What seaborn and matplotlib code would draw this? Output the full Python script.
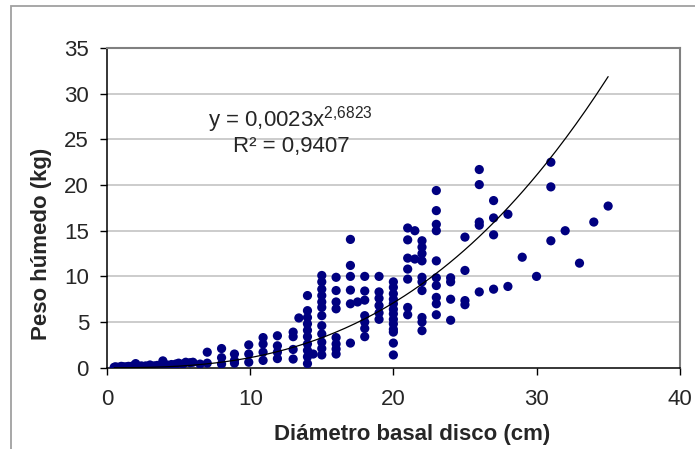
import matplotlib
matplotlib.use("Agg")
import matplotlib.pyplot as plt
import seaborn as sns
import numpy as np
import pandas as pd
from matplotlib.patches import Rectangle

# diametro basal (cm) / peso humedo (kg)
diam_small = [0.5, 0.6, 0.8, 1.0, 1.0, 1.2, 1.4, 1.5, 1.7, 1.8, 2.0, 2.0, 2.2, 2.4, 2.5, 2.7,
              3.0, 3.0, 3.3, 3.5, 3.8, 3.9, 4.2, 4.5, 4.8, 5.0, 5.3, 5.5, 5.8, 6.0, 6.5,
              7.0, 7.0, 8.0, 8.0, 8.0, 8.9, 8.9, 8.9, 9.9, 9.9, 9.9,
              10.9, 10.9, 10.9, 10.9, 11.9, 11.9, 11.9, 11.9]
peso_small = [0.05, 0.1, 0.05, 0.1, 0.15, 0.1, 0.1, 0.15, 0.1, 0.2, 0.45, 0.1, 0.15, 0.2, 0.1, 0.2,
              0.15, 0.3, 0.2, 0.25, 0.3, 0.75, 0.3, 0.35, 0.4, 0.5, 0.4, 0.6, 0.55, 0.6, 0.4,
              1.7, 0.5, 2.1, 1.1, 0.4, 1.5, 0.8, 0.5, 2.5, 1.5, 0.6,
              3.3, 2.6, 1.7, 0.8, 3.5, 2.4, 1.7, 1.0]

diam_mid = [13.0, 13.0, 13.0, 13.0, 13.4,
            14.0, 14.0, 14.0, 14.0, 14.0, 14.0, 14.0, 14.0, 14.0, 14.0, 14.4,
            15.0, 15.0, 15.0, 15.0, 15.0, 15.0, 15.0, 15.0, 15.0, 15.0, 15.0, 15.0,
            16.0, 16.0, 16.0, 16.0, 16.0, 16.0, 16.0, 16.0,
            17.0, 17.0, 17.0, 17.0, 17.0, 17.0, 17.5,
            18.0, 18.0, 18.0, 18.0, 18.0, 18.0, 18.0,
            19.0, 19.0, 19.0, 19.0, 19.0, 19.0,
            20.0, 20.0, 20.0, 20.0, 20.0, 20.0, 20.0, 20.0, 20.0, 20.0, 20.0, 20.0, 20.0]
peso_mid = [3.9, 3.4, 2.0, 0.95, 5.45,
            7.9, 6.25, 5.5, 4.8, 4.1, 3.4, 2.6, 1.9, 1.2, 0.45, 1.5,
            10.1, 9.4, 8.6, 7.9, 7.2, 6.6, 5.7, 4.6, 3.7, 2.8, 2.1, 1.4,
            9.9, 8.45, 7.2, 6.45, 3.3, 2.6, 2.05, 1.5,
            14.05, 11.2, 10.0, 8.5, 7.0, 2.7, 7.2,
            10.0, 8.4, 7.4, 5.7, 5.0, 4.3, 3.4,
            10.0, 8.3, 7.6, 6.8, 6.0, 5.3,
            9.4, 8.8, 8.1, 7.5, 7.0, 6.4, 5.9, 5.3, 4.8, 4.2, 3.9, 2.7, 1.4]

diam_large = [21.0, 21.0, 21.0, 21.0, 21.0, 21.0, 21.0, 21.5, 21.5,
              22.0, 22.0, 22.0, 22.0, 22.0, 22.0, 22.0, 22.0, 22.0, 22.0,
              23.0, 23.0, 23.0, 23.0, 23.0, 23.0, 23.0, 23.0, 23.0, 23.0,
              24.0, 24.0, 24.0, 24.0, 25.0, 25.0, 25.0, 25.0,
              26.0, 26.0, 26.0, 26.0, 26.0, 27.0, 27.0, 27.0, 27.0,
              28.0, 28.0, 29.0, 30.0, 31.0, 31.0, 31.0, 32.0, 33.0, 34.0, 35.0]
peso_large = [15.3, 14.0, 12.0, 10.8, 9.7, 6.6, 5.8, 15.0, 11.9,
              13.9, 13.2, 12.5, 11.7, 9.9, 9.4, 8.45, 5.5, 5.0, 4.06,
              19.4, 17.2, 15.7, 15.0, 11.7, 9.85, 9.0, 7.7, 7.0, 5.8,
              9.85, 9.4, 7.5, 5.2, 14.3, 10.65, 7.35, 6.9,
              21.7, 20.05, 15.95, 15.6, 8.3, 18.3, 16.4, 14.55, 8.6,
              16.8, 8.9, 12.1, 10.0, 22.5, 19.8, 13.9, 15.0, 11.45, 15.95, 17.7]

# power trendline y = a * x^b
coef_a = 0.0023
coef_b = 2.6823
r2 = 0.9407

df = pd.DataFrame({
    "diam": diam_small + diam_mid + diam_large,
    "peso": peso_small + peso_mid + peso_large,
})

sns.set_style("white")
plt.rcParams["font.family"] = ["Liberation Sans", "DejaVu Sans"]
plt.rcParams["mathtext.fontset"] = "custom"
plt.rcParams["mathtext.rm"] = "Liberation Sans"

fig = plt.figure(figsize=(6.95, 4.49), dpi=100)
ax = fig.add_axes([0.154, 0.181, 0.824, 0.712])

# outer chart frame (right and bottom edges fall outside the image)
fig.patches.append(Rectangle((11 / 695, -0.05), 1.2, (449 - 6) / 449 + 0.05,
                             transform=fig.transFigure, fill=False,
                             edgecolor="#a0a0a0", lw=1.3, zorder=0))

for v in range(5, 36, 5):
    ax.axhline(v, color="#c8c8c8", lw=1.3, zorder=0)

sns.scatterplot(data=df, x="diam", y="peso", ax=ax, color="#000080",
                s=44, edgecolor="none", zorder=3)

xs = np.linspace(df["diam"].min(), df["diam"].max(), 200)
trend = pd.DataFrame({"x": xs, "y": coef_a * xs ** coef_b})
sns.lineplot(data=trend, x="x", y="y", ax=ax, color="black", lw=0.9, zorder=4)

ax.text(12.8, 27.2, r"y = 0,0023x$^{\mathregular{2{,}6823}}$", ha="center", va="center",
        fontsize=16)
ax.text(12.9, 24.2, "R² = 0,9407", ha="center", va="center", fontsize=16)

ax.set_xlim(0, 40)
ax.set_ylim(0, 35)
ax.set_xticks(range(0, 41, 10))
ax.set_yticks(range(0, 36, 5))
ax.tick_params(axis="both", direction="out", length=5, width=1, labelsize=16,
               color="black", left=True, bottom=True)
ax.tick_params(axis="x", pad=10)
ax.tick_params(axis="y", pad=8)
ax.set_xlabel("Diámetro basal disco (cm)", fontsize=16, fontweight="bold")
ax.set_ylabel("Peso húmedo (kg)", fontsize=16, fontweight="bold")
ax.xaxis.set_label_coords(0.532, -0.175)
ax.yaxis.set_label_coords(-0.096, 0.386)

for side in ["left", "bottom"]:
    ax.spines[side].set_color("black")
    ax.spines[side].set_linewidth(1.1)
for side in ["top", "right"]:
    ax.spines[side].set_color("#808080")
    ax.spines[side].set_linewidth(1.5)

fig.savefig("out.png", dpi=100)
